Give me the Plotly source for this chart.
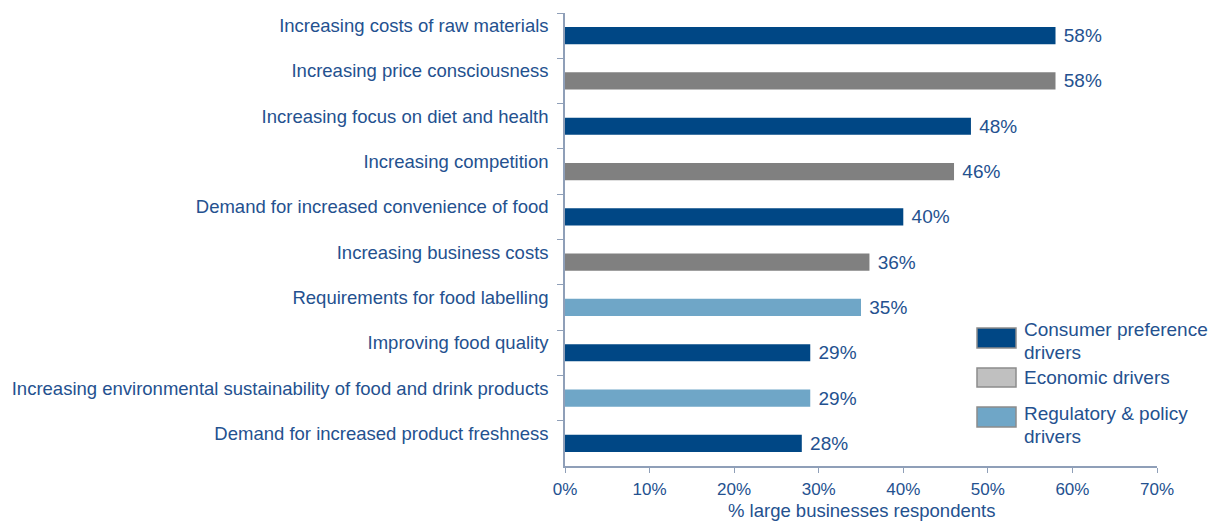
import plotly.graph_objects as go

# Survey results: share of large businesses citing each driver
categories = [
    "Increasing costs of raw materials",
    "Increasing price consciousness",
    "Increasing focus on diet and health",
    "Increasing competition",
    "Demand for increased convenience of food",
    "Increasing business costs",
    "Requirements for food labelling",
    "Improving food quality",
    "Increasing environmental sustainability of food and drink products",
    "Demand for increased product freshness",
]
values = [58, 58, 48, 46, 40, 36, 35, 29, 29, 28]
groups = [
    "consumer", "economic", "consumer", "economic", "consumer",
    "economic", "regulatory", "consumer", "regulatory", "consumer",
]

group_keys = ["consumer", "economic", "regulatory"]
group_lines = [["Consumer preference", "drivers"], ["Economic drivers"], ["Regulatory & policy", "drivers"]]
bar_colors = {"consumer": "#004785", "economic": "#808080", "regulatory": "#6fa6c7"}
swatch_colors = {"consumer": "#004785", "economic": "#c0c0c0", "regulatory": "#6fa6c7"}

x_ticks = [0, 10, 20, 30, 40, 50, 60, 70]
x_title = "% large businesses respondents"

TEXT = "#24518f"
AXIS = "#8f9fb8"
FONT = "Liberation Sans"

fig = go.Figure()
fig.add_trace(go.Bar(
    x=values,
    y=categories,
    orientation="h",
    width=0.38,
    marker=dict(color=[bar_colors[g] for g in groups], line=dict(width=0)),
    text=[f"\u00a0{v}%" for v in values],
    textposition="outside",
    constraintext="none",
    textfont=dict(family=FONT, size=19, color=TEXT),
    cliponaxis=False,
    showlegend=False,
    hoverinfo="skip",
))

fig.update_layout(
    width=1209,
    height=522,
    margin=dict(l=565, r=52, t=13, b=56),
    paper_bgcolor="white",
    plot_bgcolor="white",
    font=dict(family=FONT, size=18, color=TEXT),
    xaxis=dict(
        range=[0, 70],
        tickvals=x_ticks,
        ticktext=[f"{t}%" for t in x_ticks],
        automargin=False,
        showgrid=False,
        zeroline=False,
        showline=True,
        linecolor=AXIS,
        linewidth=1.5,
        ticks="outside",
        ticklen=5,
        tickcolor=AXIS,
        tickfont=dict(family=FONT, size=17, color=TEXT),
        ticklabelstandoff=2,
    ),
    yaxis=dict(
        type="category",
        autorange="reversed",
        tickson="boundaries",
        automargin=False,
        showgrid=False,
        zeroline=False,
        showline=True,
        linecolor=AXIS,
        linewidth=1.5,
        ticks="outside",
        ticklen=6,
        tickcolor=AXIS,
        tickfont=dict(family=FONT, size=18.5, color=TEXT),
        ticklabelshift=10,
        ticklabelstandoff=11,
    ),
)

plot_top, plot_bottom, plot_left, plot_width = 13, 466, 565, 592


def px_to_paper_y(py):
    return (plot_bottom - py) / (plot_bottom - plot_top)


def px_to_paper_x(px):
    return (px - plot_left) / plot_width


# X-axis title, sitting at the bottom edge of the figure
fig.add_annotation(
    xref="paper", yref="paper", x=0.5, y=px_to_paper_y(510),
    xanchor="center", yanchor="middle", text=x_title, showarrow=False,
    font=dict(family=FONT, size=18.5, color=TEXT),
)

# Legend drawn as swatches with labels beside the bars
swatch_y = [(328, 348), (368, 387), (407, 427)]
line_y = [[329, 352], [377], [413, 436]]

for key, lines, (y0, y1), ys in zip(group_keys, group_lines, swatch_y, line_y):
    fig.add_shape(
        type="rect", xref="paper", yref="paper",
        x0=px_to_paper_x(977), x1=px_to_paper_x(1016),
        y0=px_to_paper_y(y1), y1=px_to_paper_y(y0),
        fillcolor=swatch_colors[key], line=dict(color="#8c8c8c", width=1.5),
    )
    for line, ly in zip(lines, ys):
        fig.add_annotation(
            xref="paper", yref="paper",
            x=px_to_paper_x(1022), y=px_to_paper_y(ly),
            xanchor="left", yanchor="middle", align="left",
            text=line, showarrow=False,
            font=dict(family=FONT, size=19, color=TEXT),
        )

fig.write_html("out.html")
